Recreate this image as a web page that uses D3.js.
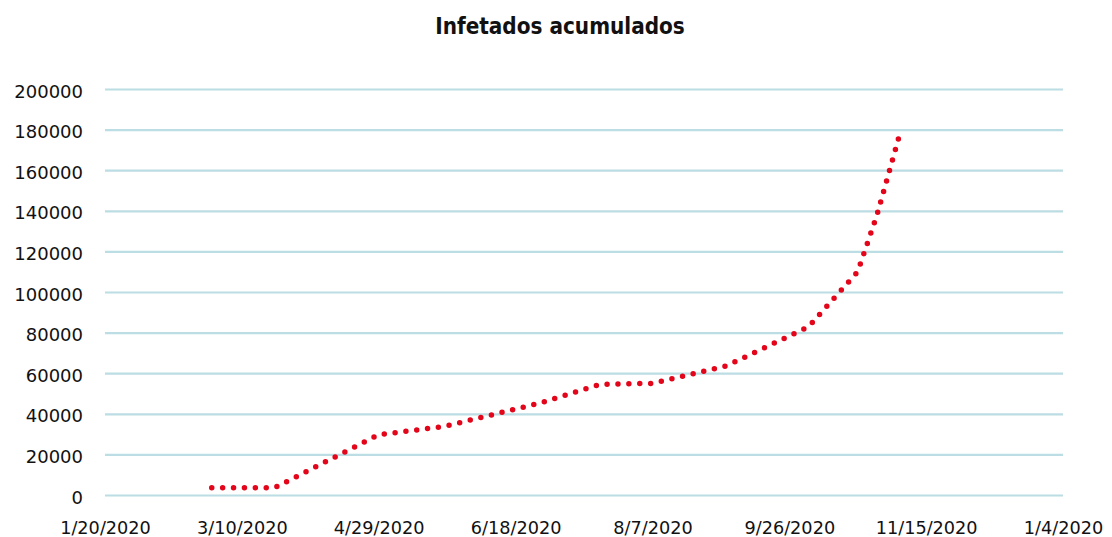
<!DOCTYPE html>
<html>
<head>
<meta charset="utf-8">
<script src="https://cdn.jsdelivr.net/npm/d3@7"></script>
<style>
    body { margin: 0; background: #fff; }
    svg { display: block; }
</style>
</head>
<body>
<script>
// Data
const dates = ["2020-02-28", "2020-03-22", "2020-04-29", "2020-05-23", "2020-06-27", "2020-07-19",
               "2020-08-07", "2020-09-03", "2020-10-03", "2020-10-21", "2020-10-28", "2020-11-05"];
const infected = [3600, 3600, 29700, 33800, 45300, 54500, 55000, 63600, 82800, 110000, 137800, 176100];

const tickDates = ["2020-01-20", "2020-03-10", "2020-04-29", "2020-06-18", "2020-08-07", "2020-09-26",
                   "2020-11-15", "2021-01-04"];
const tickLabels = ["1/20/2020", "3/10/2020", "4/29/2020", "6/18/2020", "8/7/2020", "9/26/2020",
                    "11/15/2020", "1/4/2020"];
const yTicks = [0, 20000, 40000, 60000, 80000, 100000, 120000, 140000, 160000, 180000, 200000];

const width = 1112;
const height = 537;
const parse = d3.utcParse("%Y-%m-%d");

const svg = d3.select("body").append("svg")
    .attr("width", width)
    .attr("height", height);

const x = d3.scaleUtc()
    .domain([parse(tickDates[0]), parse(tickDates[tickDates.length - 1])])
    .range([105, 1063]);

const y = d3.scaleLinear()
    .domain([0, 200000])
    .range([495, 89]);

// Title
svg.append("text")
    .attr("x", 560)
    .attr("y", 34)
    .attr("text-anchor", "middle")
    .style("font-family", "'DejaVu Sans Condensed', 'DejaVu Sans'")
    .style("font-stretch", "condensed")
    .style("font-weight", "bold")
    .style("font-size", "22.3px")
    .style("fill", "#111")
    .text("Infetados  acumulados");

// Gridlines + y labels
const yAxis = svg.append("g")
    .attr("transform", "translate(105,0)")
    .call(d3.axisLeft(y).tickValues(yTicks).tickSize(-(1063 - 105)).tickPadding(22).tickFormat(d3.format("d")));
yAxis.select(".domain").remove();
yAxis.selectAll(".tick line")
    .attr("stroke", "#bcdde3")
    .attr("stroke-width", 2.2);
yAxis.selectAll(".tick text")
    .attr("dy", "0.45em")
    .style("font-family", "'DejaVu Sans'")
    .style("font-size", "18px")
    .style("fill", "#111");

// x labels
const xAxis = svg.append("g")
    .attr("transform", "translate(0,495)")
    .call(d3.axisBottom(x)
        .tickValues(tickDates.map(parse))
        .tickSize(0)
        .tickPadding(26)
        .tickFormat((d, i) => tickLabels[i]));
xAxis.select(".domain").remove();
xAxis.selectAll(".tick text")
    .style("font-family", "'DejaVu Sans'")
    .style("font-size", "17.7px")
    .style("fill", "#111");

// Dotted line
const series = dates.map((d, i) => ({ date: parse(d), value: infected[i] }));
const line = d3.line()
    .x(d => x(d.date))
    .y(d => y(d.value));

svg.append("path")
    .datum(series)
    .attr("d", line)
    .attr("fill", "none")
    .attr("stroke", "#e3061b")
    .attr("stroke-width", 5.5)
    .attr("stroke-linecap", "round")
    .attr("stroke-dasharray", "0 10.9");
</script>
</body>
</html>
